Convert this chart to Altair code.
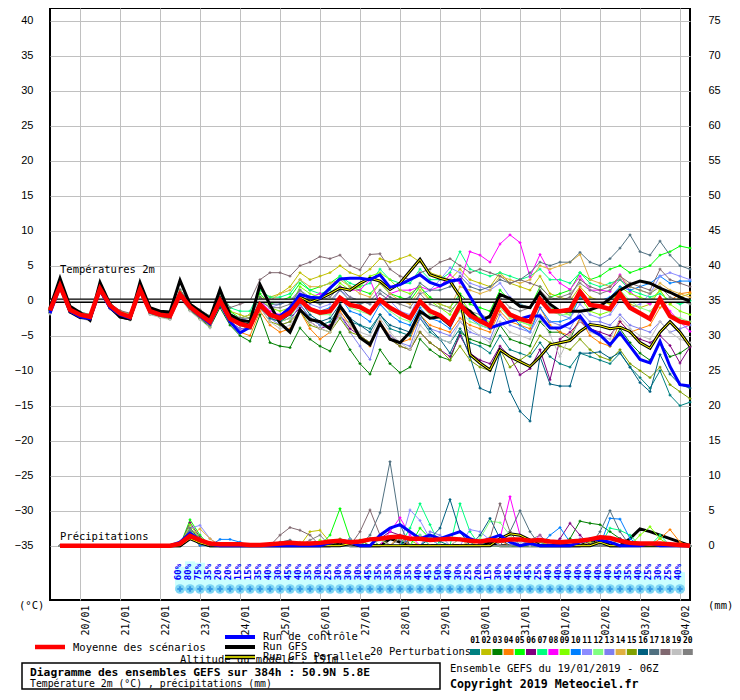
import json
import altair as alt
import pandas as pd

# ---------------------------------------------------------------- data
STEP_H = 6
N_STEPS = 65                      # 0 .. 384 h, every 6 h
FIRST_TICK_H = 18                 # 20/01 00Z
DATES = ["20/01", "21/01", "22/01", "23/01", "24/01", "25/01", "26/01", "27/01",
         "28/01", "29/01", "30/01", "31/01", "01/02", "02/02", "03/02", "04/02"]

MEMBERS = [f"{i:02d}" for i in range(1, 21)]
MEMBER_COLORS = ["#008080", "#c0c000", "#008000", "#ff8000", "#00ff00", "#800080",
                 "#00ff80", "#ff00ff", "#80ff00", "#0080ff", "#8c8cff", "#80ff80",
                 "#7f7ff0", "#e0b040", "#80a000", "#006080", "#507080", "#806870",
                 "#c0c0c0", "#808080"]

# 2 m temperature (degC), one value every 6 h
T_MEAN = [-1.4, 2.1, -1.3, -2.0, -2.3, 1.7, -0.7, -1.8, -2.3, 1.6, -1.5, -2.0, -2.2, 0.9, -0.9, -2.0, -3.0,
          0.0, -2.6, -3.3, -3.7, -0.6, -2.0, -2.5, -1.7, 0.1, -1.2, -1.7, -1.5, 0.4, -0.6, -0.9, -1.7,
          0.1, -1.0, -1.8, -2.5, -0.1, -1.5, -2.1, -3.3, -0.6, -2.1, -2.9, -3.6, -0.3, -2.0, -2.6, -3.0,
          0.2, -1.5, -1.5, -1.3, 1.3, -0.6, -0.8, -1.2, 1.0, -1.0, -1.8, -2.6, 0.2, -2.2, -3.0, -3.3]
T_CTRL = [-1.8, 2.0, -1.5, -2.3, -2.6, 1.5, -1.0, -2.0, -2.5, 1.5, -1.6, -2.0, -2.3, 0.8, -1.0, -2.2, -3.3,
          -0.3, -3.0, -4.6, -3.8, -0.8, -2.0, -2.2, -1.0, 0.9, 0.5, 0.4, 1.8,
          3.1, 3.2, 3.2, 3.0, 3.7, 1.9, 2.3, 3.0, 3.7, 2.6, 2.1, 2.8, 3.0, 0.6, -1.8, -3.9, -3.4,
          -3.0, -2.6, -2.2, -2.2, -3.9, -3.9, -3.2, -2.2, -4.1, -4.9, -6.3, -4.6, -6.5, -8.4, -8.9, -5.8,
          -9.4, -12.0, -12.2]
T_GFS = [-1.0, 3.2, -0.8, -1.7, -2.8, 2.6, -0.5, -2.3, -2.6, 2.6, -1.0, -1.5, -1.6, 2.9, -0.5, -1.5, -2.5,
         1.6, -2.0, -2.8, -3.0, 2.3, -0.6, -3.2, -4.5, -1.3, -2.7, -3.0, -4.0, -0.8, -2.7, -5.3, -6.3,
         -3.2, -5.5, -6.0, -4.5, -1.5, -2.5, -2.3, -3.5, -0.7, -1.5, -3.0, -2.2, 0.9, 0.3, -0.8, -1.0,
         1.2, -0.5, -1.5, -1.5, -1.5, -1.3, -0.8, 0.3, 1.5, 2.3, 2.8, 2.5, 1.8, 1.2, 0.5, -0.1]
T_PARA = [-1.5, 2.2, -1.6, -2.4, -2.5, 1.6, -1.0, -2.3, -2.6, 1.8, -1.4, -1.8, -2.1, 1.0, -0.8, -1.8, -2.8,
          0.3, -2.5, -3.2, -3.5, -0.5, -2.0, -2.4, -1.5, 0.5, -0.2, 0.3, 1.0, 1.8, 1.5, 2.5, 3.2,
          2.8, 1.6, 2.5, 4.2, 5.9, 3.7, 3.2, 2.8, 0.6, -7.7, -8.9, -9.9, -7.0, -8.0, -8.7, -9.4,
          -8.0, -6.3, -6.0, -5.7, -4.4, -3.4, -3.6, -4.0, -3.8, -4.4, -6.0, -6.8, -4.5, -3.0, -4.5, -6.5]

T_01 = [-1.2, 2.4, -1.0, -1.8, -2.0, 1.9, -0.5, -1.6, -2.1, 1.8, -1.3, -1.8, -2.0, 1.2, -0.6, -1.7, -2.6,
        0.5, -2.0, -3.0, -3.5, 0.0, -2.5, -3.0, -2.0, -0.5, -2.5, -3.5, -3.0, -1.0, -3.0, -3.5, -4.0,
        -2.0, -4.0, -4.5, -5.0, -2.5, -4.5, -5.5, -6.0, -4.0, -6.0, -6.5, -7.5, -5.0, -7.0, -7.5, -8.0,
        -6.0, -8.0, -9.0, -9.5, -7.5, -8.0, -8.5, -9.0, -7.5, -9.5, -11.0, -12.5, -10.0, -13.5, -15.0, -14.5]
T_02 = [-1.0, 2.6, -0.9, -1.7, -2.1, 2.0, -0.4, -1.5, -1.9, 2.0, -1.1, -1.7, -1.9, 1.4, -0.5, -1.5, -2.4,
        1.0, -1.5, -2.0, -2.5, 1.5, 0.5, 1.0, 2.0, 4.0, 3.0, 3.5, 4.0, 5.0, 4.0, 3.5, 4.5,
        6.0, 5.5, 6.0, 6.5, 5.5, 4.0, 3.5, 3.0, 4.5, 3.0, 2.5, 2.0, 4.0, 2.5, 2.0, 1.5,
        3.5, 1.0, 0.5, 0.0, 2.0, 0.5, 0.0, -0.5, 1.5, -0.5, -1.0, -0.5, 1.5, -0.5, 0.5, 1.0]
T_03 = [-1.8, 1.7, -1.6, -2.4, -2.8, 1.3, -1.1, -2.2, -2.7, 1.2, -1.9, -2.3, -2.6, 0.4, -1.4, -2.6, -3.8,
        -1.0, -3.5, -5.0, -5.8, -2.0, -6.0, -6.5, -6.7, -3.9, -5.5, -6.5, -7.2, -4.5, -7.0, -9.0, -10.5,
        -7.0, -9.0, -10.3, -9.5, -5.5, -7.0, -8.0, -8.5, -4.5, -5.5, -6.0, -6.5, -3.5, -5.5, -6.0, -6.5,
        -3.0, -4.5, -4.5, -5.5, -2.5, -4.0, -5.0, -6.5, -4.0, -6.0, -7.5, -8.5, -6.0, -8.0, -7.5, -6.5]
T_04 = [-1.6, 1.8, -1.5, -2.3, -2.6, 1.5, -0.9, -2.1, -2.6, 1.4, -1.7, -2.2, -2.5, 0.6, -1.2, -2.4, -3.4,
        -0.5, -3.0, -4.5, -5.0, -1.5, -3.5, -4.5, -4.0, -1.5, -4.0, -5.5, -4.5, -1.5, -3.5, -5.0, -6.5,
        -3.0, -5.0, -6.0, -5.5, -2.0, -3.5, -4.0, -4.5, -2.5, -3.5, -4.0, -4.5, -1.5, -3.0, -3.5, -4.0,
        -1.0, -3.5, -4.5, -5.0, -2.5, -5.0, -6.0, -6.5, -3.0, -4.5, -4.0, -3.5, -1.0, 0.0, 1.0, 1.2]
T_05 = [-1.3, 2.2, -1.2, -1.9, -2.4, 1.8, -0.8, -1.7, -2.4, 1.7, -1.4, -2.1, -2.1, 1.1, -0.8, -2.1, -3.2,
        1.0, -1.5, -2.5, -2.0, 1.0, -0.5, 0.0, 0.5, 2.5, 1.5, 2.0, 2.5, 3.5, 2.0, 1.5, 1.0,
        2.5, 1.0, 0.5, 0.0, 2.0, 0.5, -0.5, -1.0, 1.0, -0.5, -1.0, -1.5, 1.5, 0.0, -0.5, -1.0,
        2.0, 0.5, 1.0, 1.5, 4.0, 3.0, 3.5, 4.5, 5.0, 4.0, 4.5, 5.0, 6.5, 7.0, 7.8, 7.5]
T_06 = [-1.5, 2.0, -1.4, -2.1, -2.2, 1.6, -0.6, -1.9, -2.2, 1.5, -1.6, -1.9, -2.3, 0.8, -1.0, -1.9, -2.8,
        -0.5, -3.0, -4.0, -4.0, -0.5, -2.5, -3.0, -2.5, -1.0, -3.0, -4.0, -3.5, -2.0, -4.0, -5.0, -6.0,
        -3.5, -5.5, -6.5, -7.0, -4.5, -6.0, -7.0, -8.0, -5.0, -7.5, -8.5, -9.0, -6.5, -8.0, -10.6, -9.7,
        -7.0, -11.3, -5.5, -4.5, -3.0, -4.0, -4.5, -5.0, -3.0, -4.5, -5.5, -6.0, -5.0, -6.4, -8.9, -6.6]
T_07 = [-1.1, 2.5, -1.0, -1.6, -2.0, 2.1, -0.3, -1.6, -2.0, 1.9, -1.0, -1.6, -1.8, 1.5, -0.4, -1.4, -2.2,
        1.5, -1.0, -1.5, -1.5, 1.5, 0.5, 0.5, 1.0, 3.0, 1.5, 1.0, 1.5, 3.5, 2.5, 2.0, 2.5,
        4.5, 3.0, 2.5, 2.5, 4.5, 3.0, 3.0, 4.0, 7.0, 4.5, 4.0, 3.5, 4.0, 3.5, 3.0, 3.5,
        4.5, 3.0, 3.0, 2.5, 4.0, 2.5, 2.0, 2.5, 3.0, 1.5, 1.0, 0.5, 1.0, 0.0, -0.5, 0.0]
T_08 = [-1.4, 2.3, -1.1, -2.0, -2.5, 1.7, -0.9, -1.8, -2.5, 1.6, -1.5, -2.0, -2.2, 1.0, -0.9, -2.2, -3.1,
        0.5, -2.0, -2.5, -3.0, 0.0, -1.5, -2.0, -1.0, 1.0, 0.5, 1.0, 1.0, 2.0, 1.5, 1.5, 3.0,
        -0.5, 1.0, 1.5, 1.5, 2.0, 1.5, 2.0, 3.7, 2.5, 7.0, 6.5, 5.5, 8.1, 9.4, 8.3, 3.4,
        6.6, 4.0, 2.5, 1.6, 3.5, 1.5, 1.5, 1.3, 3.7, 1.3, 0.1, -0.5, 0.5, -1.5, -3.0, -4.4]
T_09 = [-1.3, 2.3, -1.1, -1.9, -2.1, 1.8, -0.6, -1.7, -2.2, 1.7, -1.2, -1.9, -2.1, 1.0, -0.7, -1.8, -2.7,
        0.0, -2.5, -3.5, -4.0, 0.5, -1.0, -1.5, -1.0, 2.0, 1.0, 0.5, 1.0, 2.5, 1.5, 2.0, 3.5,
        4.0, 3.0, 1.5, 1.0, 2.0, 0.0, -1.0, -2.0, 0.5, -1.5, -2.5, -3.0, 0.0, -2.0, -3.0, -3.5,
        0.5, -1.0, -1.5, -2.0, 0.5, -1.5, -2.0, -1.5, 2.0, 1.0, 0.5, 0.0, 1.5, -0.5, -1.5, -2.0]
T_10 = [-1.6, 1.9, -1.3, -2.2, -2.3, 1.5, -0.7, -2.0, -2.3, 1.4, -1.7, -2.0, -2.4, 0.7, -1.1, -2.0, -3.0,
        0.0, -2.5, -3.0, -3.5, -0.5, -2.0, -2.5, -2.0, 0.5, -1.0, -1.5, -1.0, 0.5, -1.5, -2.0, -3.0,
        -0.5, -2.0, -3.0, -3.5, -1.0, -2.5, -3.0, -4.0, -1.0, -2.5, -3.5, -4.0, -0.5, -2.0, -3.5, -4.5,
        -1.0, -3.0, -3.0, -2.5, 0.5, -0.5, 0.0, 0.5, 2.0, 1.5, 2.0, 2.5, 3.5, 2.5, 2.8, 2.8]
T_11 = [-1.2, 2.2, -1.3, -1.8, -2.3, 1.9, -0.7, -1.6, -2.3, 1.8, -1.3, -2.0, -2.0, 1.2, -0.7, -2.0, -3.0,
        0.5, -2.0, -2.5, -3.0, 0.0, -1.0, -0.5, 0.0, 1.0, -0.5, -1.0, -0.5, 1.5, 0.5, 0.0, -0.5,
        1.0, 0.0, -1.5, -2.0, 1.0, 1.5, 3.0, 4.7, 4.0, 2.5, 2.0, 1.5, 2.5, 0.5, -0.5, -1.0,
        0.5, -1.0, -2.0, -2.5, -0.5, -2.0, -2.5, -2.0, 0.0, -1.0, -0.5, 1.0, 3.5, 4.0, 3.5, 3.0]
T_12 = [-1.5, 1.9, -1.4, -2.2, -2.5, 1.6, -0.8, -2.0, -2.5, 1.5, -1.6, -2.1, -2.4, 0.7, -1.1, -2.3, -3.2,
        0.5, -2.0, -3.0, -3.0, -1.0, -2.5, -3.0, -2.5, 0.0, -1.5, -2.0, -2.0, 0.5, -1.0, -1.5, -2.0,
        0.0, -1.5, -2.5, -3.0, -0.5, -2.0, -2.5, -3.5, -1.5, -3.0, -3.5, -4.0, -1.0, -2.5, -3.0, -3.5,
        0.0, -1.5, -2.0, -2.0, 1.0, -0.5, -1.0, -1.5, 1.5, 0.0, -1.0, -1.5, 0.0, -2.0, -2.5, -3.0]
T_13 = [-1.7, 1.8, -1.5, -2.3, -2.7, 1.4, -1.0, -2.1, -2.6, 1.3, -1.8, -2.2, -2.5, 0.5, -1.3, -2.5, -3.6,
        -0.5, -3.0, -4.0, -4.0, -1.0, -2.5, -3.5, -3.0, -0.5, -2.5, -3.5, -4.0, -2.0, -4.5, -6.5, -8.4,
        -3.5, -5.0, -6.0, -6.5, -2.5, -4.0, -4.5, -5.0, -3.0, -4.5, -5.0, -5.5, -2.0, -3.5, -4.0, -4.5,
        -2.0, -3.0, -3.5, -4.0, -1.5, -3.0, -3.0, -3.5, -2.0, -3.5, -4.0, -4.5, -3.0, -4.5, -4.0, -3.5]
T_14 = [-1.1, 2.4, -1.1, -1.8, -1.9, 2.0, -0.5, -1.5, -2.0, 1.9, -1.2, -1.7, -2.1, 1.3, -0.5, -1.6, -2.5,
        0.5, -2.0, -2.5, -2.0, 0.5, 0.0, 1.0, 1.5, 3.0, 2.0, 2.0, 2.5, 3.0, 2.0, 1.0, 0.5,
        2.5, 1.0, 0.0, -0.5, 1.5, 0.0, -0.5, -1.0, 2.0, 1.5, 1.0, 1.5, 3.5, 3.0, 2.5, 3.0,
        5.0, 4.5, 5.0, 5.5, 6.6, 3.0, 2.5, 2.0, 3.5, 2.0, 1.5, 1.0, 2.5, 1.5, 1.0, 0.5]
T_15 = [-1.7, 1.7, -1.6, -2.4, -2.7, 1.4, -1.0, -2.2, -2.7, 1.3, -1.8, -2.3, -2.6, 0.5, -1.3, -2.5, -3.6,
        -0.5, -2.5, -3.5, -4.0, -1.0, -3.0, -3.5, -3.0, -1.5, -3.5, -4.0, -4.5, -2.5, -4.5, -5.0, -6.0,
        -3.5, -5.5, -6.5, -7.0, -4.5, -6.0, -7.0, -8.5, -6.5, -8.5, -9.5, -10.0, -7.0, -9.5, -8.5, -7.5,
        -5.0, -6.0, -6.5, -7.0, -5.5, -7.0, -8.0, -8.5, -7.0, -9.0, -10.0, -11.0, -9.5, -12.0, -13.0, -14.0]
T_16 = [-1.4, 2.1, -1.5, -2.0, -2.4, 1.7, -0.7, -1.8, -2.1, 1.6, -1.5, -2.0, -2.2, 0.9, -0.9, -2.0, -2.9,
        0.0, -2.5, -3.5, -4.0, -0.5, -2.5, -3.0, -2.0, 0.0, -2.0, -3.0, -2.5, -0.5, -2.5, -3.5, -4.5,
        -2.0, -3.5, -4.0, -4.5, -2.0, -4.0, -5.5, -7.5, -4.5, -8.0, -12.5, -13.1, -7.4, -13.0, -15.8, -17.2,
        -8.0, -11.9, -12.2, -12.2, -7.5, -7.5, -7.3, -8.2, -7.4, -9.5, -11.7, -13.0, -7.7, -10.5, -12.0, -12.5]
T_17 = [-1.3, 2.1, -1.2, -2.1, -2.3, 1.8, -0.6, -1.8, -2.4, 1.7, -1.4, -1.9, -2.3, 1.0, -0.8, -1.9, -3.1,
        0.5, -2.0, -2.5, -2.5, 0.5, -0.5, -0.5, 0.0, 1.5, 0.0, -0.5, 0.0, 1.5, 0.0, -0.5, 0.0,
        1.5, 0.5, 0.0, 0.5, 2.5, 1.5, 1.5, 2.0, 3.5, 2.0, 1.5, 2.0, 3.0, 2.5, 3.0, 4.0,
        5.5, 5.0, 5.5, 5.5, 6.9, 5.5, 5.0, 6.0, 7.5, 9.4, 7.0, 6.5, 8.5, 6.5, 5.0, 4.5]
T_18 = [-1.0, 2.7, -0.8, -1.6, -2.0, 2.1, -0.4, -1.4, -1.8, 2.1, -1.0, -1.6, -1.8, 1.6, -0.3, -1.3, -2.2,
        1.0, -1.0, -0.5, 0.0, 3.0, 4.0, 4.0, 3.5, 5.0, 5.5, 6.3, 6.0, 6.5, 5.0, 4.4, 6.6,
        6.7, 4.5, 3.5, 3.0, 4.0, 4.5, 5.5, 6.0, 5.0, 4.0, 4.5, 4.0, 3.5, 2.5, 3.0, 2.5,
        2.0, 0.5, 0.0, 0.5, 3.0, 2.0, 1.5, 2.0, 3.5, 2.5, 2.0, 1.5, 4.5, 3.0, 2.5, 2.0]
T_19 = [-1.9, 1.6, -1.7, -2.5, -2.9, 1.2, -1.2, -2.3, -2.8, 1.1, -2.0, -2.4, -2.7, 0.3, -1.5, -2.7, -3.9,
        0.0, -2.5, -3.5, -4.0, -1.0, -3.0, -4.0, -3.5, -1.5, -3.0, -4.0, -4.5, -2.0, -3.5, -4.5, -5.0,
        -2.5, -4.5, -6.0, -7.0, -3.5, -5.0, -5.5, -6.0, -3.0, -4.0, -5.0, -6.0, -3.0, -4.5, -5.0, -5.5,
        -2.5, -4.9, -8.0, -5.0, -3.0, -4.5, -5.0, -5.5, -2.5, -4.0, -5.0, -5.5, -3.0, -4.5, -5.5, -6.0]
T_20 = [-1.5, 2.0, -1.2, -2.1, -2.4, 1.6, -0.8, -1.9, -2.4, 1.5, -1.6, -2.1, -2.3, 0.8, -1.0, -2.1, -3.1,
        0.5, -2.0, -3.0, -3.0, 0.0, -1.0, -1.0, -0.5, 1.5, 0.5, 0.0, 0.5, 2.0, 0.5, 0.0, -0.5,
        1.0, 0.0, -0.5, -1.0, 1.0, -0.5, -1.0, -1.5, 0.0, -1.5, -2.0, -2.5, 0.5, -1.0, -1.5, -1.0,
        1.5, 0.0, 0.5, 1.0, 2.5, 1.5, 1.0, 1.5, 3.0, 2.0, 1.5, 1.0, 2.0, 0.5, 0.0, -0.5]

# 6-hourly precipitation (mm); steps not listed are 0 mm.  Step 0 has no value.
R_MEAN = [None, 0, 0, 0, 0, 0, 0, 0, 0, 0, 0, 0, 0, 0.3, 1.4, 0.8, 0.3,
          0.2, 0.2, 0.2, 0.1, 0.1, 0.2, 0.3, 0.4, 0.3, 0.3, 0.4, 0.6, 0.7, 0.5, 0.6, 0.9,
          1.0, 1.2, 1.3, 1.0, 1.0, 0.8, 0.9, 1.0, 0.9, 0.7, 0.6, 0.8, 0.7, 0.9, 0.9, 0.7,
          0.8, 0.6, 0.5, 0.6, 0.7, 0.9, 1.2, 1.1, 0.7, 0.4, 0.3, 0.3, 0.3, 0.2, 0.1, 0.0]
R_CTRL = [(13, 0.5), (14, 1.8), (15, 0.8), (16, 0.2), (28, 0.4), (29, 0.8), (30, 0.5), (33, 1.5),
          (34, 2.5), (35, 3.0), (36, 2.0), (37, 1.0), (38, 1.5), (39, 1.0), (40, 1.5), (41, 2.0),
          (42, 1.0), (43, 0.5), (44, 1.0), (45, 1.5), (46, 0.5), (48, 0.3), (53, 0.5), (54, 1.0),
          (55, 0.8), (56, 0.5), (60, 0.3)]
R_GFS = [(14, 1.2), (15, 0.5), (29, 0.5), (34, 1.0), (35, 0.5), (44, 0.5), (54, 0.5), (55, 1.0),
         (58, 1.0), (59, 2.4), (60, 2.0), (61, 1.5), (62, 1.0), (63, 0.5)]
R_PARA = [(14, 1.0), (15, 0.4), (30, 0.3), (45, 1.0), (46, 1.7), (47, 1.5), (48, 0.8), (55, 0.5)]
R_01 = [(13, 0.5), (14, 2.0), (15, 0.5), (27, 0.5), (30, 0.8), (38, 1.5), (39, 0.6), (44, 0.8), (55, 0.5)]
R_02 = [(14, 1.8), (15, 1.0), (26, 2.0), (27, 2.2), (28, 0.5), (36, 0.8), (44, 1.2), (48, 0.5)]
R_03 = [(14, 2.5), (15, 0.8), (28, 0.6), (32, 1.0), (52, 1.0), (53, 3.5), (54, 3.2), (55, 3.0), (56, 2.0), (57, 1.0)]
R_04 = [(14, 1.5), (16, 0.5), (30, 0.8), (35, 1.5), (45, 0.7), (50, 0.5), (61, 1.0), (62, 2.3), (63, 0.5)]
R_05 = [(14, 3.7), (15, 1.5), (28, 1.5), (29, 5.3), (30, 1.0), (37, 2.5), (38, 1.0), (54, 0.5)]
R_06 = [(14, 3.3), (15, 1.2), (33, 1.0), (34, 2.0), (35, 1.5), (51, 1.0), (52, 3.2), (53, 1.5), (57, 1.0)]
R_07 = [(14, 2.2), (15, 0.8), (31, 0.8), (36, 2.5), (37, 6.0), (38, 3.0), (41, 6.0), (42, 2.0),
        (56, 2.5), (57, 2.2), (58, 1.5), (61, 1.5)]
R_08 = [(14, 2.0), (15, 0.6), (34, 2.0), (35, 4.0), (36, 1.5), (45, 1.0), (46, 7.0), (47, 1.5), (49, 1.5)]
R_09 = [(14, 3.0), (15, 1.0), (27, 0.8), (29, 1.0), (33, 1.0), (59, 1.5), (60, 2.7), (61, 1.0)]
R_10 = [(13, 0.5), (14, 1.5), (17, 0.9), (18, 0.9), (19, 0.5), (36, 1.0), (37, 1.5), (50, 1.5),
        (51, 2.6), (52, 0.5), (56, 3.9), (57, 3.8), (58, 1.0)]
R_11 = [(14, 2.5), (15, 2.9), (16, 1.0), (36, 5.1), (37, 3.6), (38, 1.0), (42, 2.3), (43, 2.0), (44, 0.8)]
R_12 = [(14, 2.0), (15, 0.5), (32, 1.0), (37, 1.5), (43, 1.0), (44, 3.5), (45, 3.3), (46, 1.5), (56, 1.0)]
R_13 = [(14, 1.5), (15, 0.5), (30, 1.0), (38, 2.0), (39, 1.5), (47, 0.8), (53, 1.0)]
R_14 = [(13, 0.3), (14, 1.5), (15, 2.4), (16, 1.0), (25, 0.5), (35, 1.0), (42, 0.5), (54, 0.5)]
R_15 = [(14, 1.8), (15, 0.6), (31, 0.8), (41, 1.0), (49, 0.5), (55, 1.0)]
R_16 = [(14, 2.0), (15, 0.5), (38, 1.0), (39, 2.5), (40, 6.6), (41, 2.0), (43, 1.5), (44, 3.9), (45, 1.0)]
R_17 = [(14, 1.6), (15, 0.5), (23, 0.5), (24, 0.8), (32, 1.5), (33, 4.7), (34, 12.0), (35, 3.0),
        (46, 2.0), (47, 5.0), (48, 2.0), (55, 2.0), (56, 5.0), (57, 2.0)]
R_18 = [(14, 2.5), (15, 1.0), (23, 1.5), (24, 2.6), (25, 2.2), (26, 1.5), (31, 2.0), (32, 5.1),
        (33, 1.5), (44, 1.0), (45, 6.0), (46, 2.0)]
R_19 = [(14, 1.2), (15, 0.4), (33, 0.8), (41, 1.0), (47, 0.5)]
R_20 = [(14, 2.0), (15, 0.8), (26, 0.8), (27, 1.5), (35, 1.0), (48, 0.8), (49, 1.5)]

# probability of precipitation (%), steps 13 .. 63
RAIN_PROB_START = 13
RAIN_PROB = [60, 80, 75, 35, 20, 20, 15, 15, 35, 40, 30, 45, 40, 35, 30, 25, 30, 30, 30, 45,
             35, 35, 30, 35, 40, 45, 50, 40, 30, 25, 20, 15, 30, 45, 45, 45, 25, 40, 40, 40,
             40, 40, 40, 40, 45, 35, 40, 25, 30, 25, 40]

T_MEMBERS = [T_01, T_02, T_03, T_04, T_05, T_06, T_07, T_08, T_09, T_10,
             T_11, T_12, T_13, T_14, T_15, T_16, T_17, T_18, T_19, T_20]
R_MEMBERS = [R_01, R_02, R_03, R_04, R_05, R_06, R_07, R_08, R_09, R_10,
             R_11, R_12, R_13, R_14, R_15, R_16, R_17, R_18, R_19, R_20]

for nm, arr in [("mean", T_MEAN), ("ctrl", T_CTRL), ("gfs", T_GFS), ("para", T_PARA)] + \
        [(m, a) for m, a in zip(MEMBERS, T_MEMBERS)]:
    assert len(arr) == N_STEPS, (nm, len(arr))
assert len(R_MEAN) == N_STEPS


def rain_series(events):
    r = [None] + [0.0] * (N_STEPS - 1)
    for k, v in events:
        r[k] = v
    return r


HOURS = [k * STEP_H for k in range(N_STEPS)]


def frame(name, temps, rains):
    return pd.DataFrame({"series": name, "hour": HOURS, "temp": temps, "rain": rains})


pert_df = pd.concat([frame(m, t, rain_series(r)) for m, t, r in zip(MEMBERS, T_MEMBERS, R_MEMBERS)])
mean_df = frame("mean", T_MEAN, R_MEAN)
ctrl_df = frame("ctrl", T_CTRL, rain_series(R_CTRL))
gfs_df = frame("gfs", T_GFS, rain_series(R_GFS))
para_df = frame("para", T_PARA, rain_series(R_PARA))
prob_df = pd.DataFrame({"hour": [(RAIN_PROB_START + i) * STEP_H for i in range(len(RAIN_PROB))],
                        "prob": RAIN_PROB})
prob_df["label"] = prob_df["prob"].astype(str) + "%"

# ---------------------------------------------------------------- scales / axes
MONO = "DejaVu Sans Mono"
SANS = "Liberation Sans"
T_LOW, T_HIGH = -42.76, 41.81          # plot bottom / top in degC
MM_OFFSET = 35                          # 0 mm is drawn at -35 degC

x_axis = alt.Axis(values=[FIRST_TICK_H + 24 * i for i in range(len(DATES))],
                  labelExpr=json.dumps(DATES) + "[round((datum.value - %d) / 24)]" % FIRST_TICK_H,
                  labelAngle=270, labelAlign="right", labelBaseline="top", labelPadding=5,
                  labelFont=MONO, labelFontSize=10, labelColor="black",
                  grid=True, gridColor="#c0c0c0", ticks=False, domain=False, title=None)
x_scale = alt.Scale(domain=[0, 384], nice=False, zero=False)
t_axis = alt.Axis(values=list(range(-35, 41, 5)), grid=True, gridColor="#c0c0c0", ticks=False,
                  domain=False, labelFont=SANS, labelFontSize=11, labelPadding=17,
                  labelColor="black", title=None)
t_scale = alt.Scale(domain=[T_LOW, T_HIGH], nice=False, zero=False)
mm_axis = alt.Axis(orient="right", values=list(range(0, 76, 5)), grid=False, ticks=False,
                   domain=False, labelFont=SANS, labelFontSize=11, labelPadding=18,
                   labelColor="black", title=None)
mm_scale = alt.Scale(domain=[T_LOW + MM_OFFSET, T_HIGH + MM_OFFSET], nice=False, zero=False)

X = alt.X("hour:Q", scale=x_scale, axis=x_axis)
YT = alt.Y("temp:Q", scale=t_scale, axis=t_axis)
YR = alt.Y("rain:Q", scale=mm_scale, axis=mm_axis)
COLOR = alt.Color("series:N", scale=alt.Scale(domain=MEMBERS, range=MEMBER_COLORS), legend=None)
MARKER = alt.OverlayMarkDef(shape="cross", size=8, filled=True, strokeWidth=0)

# ---------------------------------------------------------------- temperature group
bars = alt.Chart(prob_df).transform_calculate(
    x0="datum.hour - 3", x1="datum.hour + 3",
    top="-41.47 + (8 + 0.27 * datum.prob) / 7"
).mark_rect(color="#ccffff").encode(
    x=alt.X("x0:Q", scale=x_scale, axis=x_axis), x2="x1:Q",
    y=alt.Y("top:Q", scale=t_scale, axis=t_axis), y2=alt.value(583))
flakes = alt.Chart(prob_df).mark_point(shape="circle", filled=True, color="#7fd6f4", size=95,
                                       opacity=1).encode(x=X, y=alt.value(581))
flakes2 = alt.Chart(prob_df).mark_point(shape="cross", filled=True, color="#3a9be6", size=30,
                                        opacity=1).encode(x=X, y=alt.value(581))
prob_txt = alt.Chart(prob_df).mark_text(angle=270, font=MONO, fontSize=9, fontWeight="bold",
                                        color="#0000ff", dx=0, dy=-2).encode(
    x=X, y=alt.value(564), text="label:N")

pert_t = alt.Chart(pert_df).mark_line(strokeWidth=1, point=MARKER).encode(x=X, y=YT, color=COLOR)
zero_df = pd.DataFrame({"temp": [0]})
zero_b = alt.Chart(zero_df).mark_rule(color="black", strokeWidth=4.5).encode(y=YT)
zero_w = alt.Chart(zero_df).mark_rule(color="#e8e8e8", strokeWidth=1.6).encode(y=YT)
para_b = alt.Chart(para_df).mark_line(color="black", strokeWidth=3).encode(x=X, y=YT)
para_y = alt.Chart(para_df).mark_line(color="#ffff00", strokeWidth=1).encode(x=X, y=YT)
gfs_t = alt.Chart(gfs_df).mark_line(color="black", strokeWidth=3).encode(x=X, y=YT)
ctrl_t = alt.Chart(ctrl_df).mark_line(color="#0000ff", strokeWidth=3).encode(x=X, y=YT)
mean_t = alt.Chart(mean_df).mark_line(color="#ff0000", strokeWidth=4.5).encode(x=X, y=YT)

one = pd.DataFrame({"a": [0]})


def ptext(text, vx, vy, size=10, bold=False, color="black", font=MONO, align="left"):
    return alt.Chart(pd.DataFrame({"t": [text]})).mark_text(
        align=align, baseline="middle", font=font, fontSize=size,
        fontWeight="bold" if bold else "normal", color=color).encode(
        x=alt.value(vx), y=alt.value(vy), text="t:N")


def seg(vx0, vx1, vy, color, width):
    return alt.Chart(one).mark_rule(color=color, strokeWidth=width).encode(
        x=alt.value(vx0), x2=alt.value(vx1), y=alt.value(vy))


annot = [
    ptext("Températures 2m", 10, 262, 10.5),
    ptext("Précipitations", 10, 529, 10.5),
    ptext("(°C)", -31, 598, 10.5),
    ptext("(mm)", 658, 598, 10.5),
    seg(-15, 15, 639, "#ff0000", 4.5),
    ptext("Moyenne des scénarios", 23, 640, 10.5),
    seg(175, 205, 629, "#0000ff", 4),
    ptext("Run de contrôle", 213, 629, 10.5),
    seg(175, 205, 639, "black", 4),
    ptext("Run GFS", 213, 639, 10.5),
    ptext("Altitude du modèle : 151m", 130, 652, 10.5),
    seg(175, 205, 649, "black", 4.5),
    seg(175, 205, 649, "#ffff00", 1.5),
    ptext("Run GFS Parallele", 213, 649, 10.5),
    ptext("20 Perturbations", 320, 644, 10.5),
    alt.Chart(one).mark_rect(fill="white", stroke="black", strokeWidth=1.5).encode(
        x=alt.value(-28), x2=alt.value(390), y=alt.value(655), y2=alt.value(681)),
    ptext("Diagramme des ensembles GEFS sur 384h : 50.9N 5.8E", -20, 665, 11.3, bold=True),
    ptext("Température 2m (°C) , précipitations (mm)", -20, 676, 9.8),
    ptext("Ensemble GEFS du 19/01/2019 - 06Z", 400, 661, 10.5),
    ptext("Copyright 2019 Meteociel.fr", 400, 677, 11.6, bold=True),
]
for i, (m, c) in enumerate(zip(MEMBERS, MEMBER_COLORS)):
    annot.append(alt.Chart(one).mark_rect(color=c).encode(
        x=alt.value(420 + 11.2 * i), x2=alt.value(430 + 11.2 * i),
        y=alt.value(641), y2=alt.value(647)))
    annot.append(ptext(m, 425 + 11.2 * i, 633, 8, bold=True, align="center"))

temp_group = alt.layer(bars, flakes, flakes2, prob_txt, pert_t, zero_b, zero_w,
                       para_b, para_y, gfs_t, ctrl_t, mean_t, *annot)

# ---------------------------------------------------------------- precipitation group
pert_r = alt.Chart(pert_df).mark_line(strokeWidth=1, point=MARKER).encode(x=X, y=YR, color=COLOR)
para_rb = alt.Chart(para_df).mark_line(color="black", strokeWidth=3).encode(x=X, y=YR)
para_ry = alt.Chart(para_df).mark_line(color="#ffff00", strokeWidth=1).encode(x=X, y=YR)
gfs_r = alt.Chart(gfs_df).mark_line(color="black", strokeWidth=3).encode(x=X, y=YR)
ctrl_r = alt.Chart(ctrl_df).mark_line(color="#0000ff", strokeWidth=3).encode(x=X, y=YR)
mean_r = alt.Chart(mean_df).mark_line(color="#ff0000", strokeWidth=4.5).encode(x=X, y=YR)
rain_group = alt.layer(gfs_r, pert_r, para_rb, para_ry, ctrl_r, mean_r)

chart = alt.layer(temp_group, rain_group).resolve_scale(y="independent").properties(
    width=640, height=592, autosize="none",
    padding={"left": 42, "top": 0, "right": 42, "bottom": 92},
    background="white"
).configure_view(stroke="black", strokeWidth=2)

chart.save("out.html", embed_options={"renderer": "svg", "actions": False})
